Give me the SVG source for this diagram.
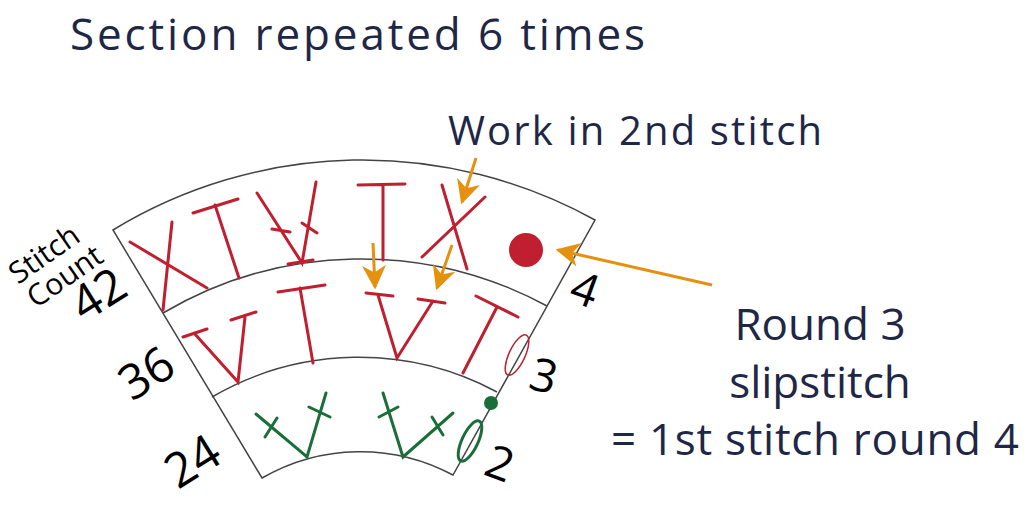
<svg xmlns="http://www.w3.org/2000/svg" width="1024" height="507" viewBox="0 0 1024 507">
<style>
.t{font-family:"Open Sans","DejaVu Sans",sans-serif;fill:#1f2747}
.n{font-family:"Open Sans","DejaVu Sans",sans-serif;fill:#000}
.g{fill:none;stroke:#444;stroke-width:1.5}
.r{stroke:#c01f2f;stroke-width:3;fill:none;stroke-linecap:round}
.gr{stroke:#1b6e3a;stroke-width:3;fill:none;stroke-linecap:round}
.o{stroke:#e6900f;stroke-width:3;fill:none;marker-end:url(#ah)}
</style>
<defs>
<marker id="ah" viewBox="0 0 10 10" refX="9" refY="5" markerWidth="8" markerHeight="8" orient="auto" markerUnits="strokeWidth">
<path d="M0,0 L10,5 L0,10 L3,5 Z" fill="#e6900f"/>
</marker>
</defs>
<rect width="1024" height="507" fill="#fff"/>
<g id="title"><text class="t" x="70" y="50" font-size="44" textLength="575">Section repeated 6 times</text></g>
<g id="note-work"><text class="t" x="448" y="145" font-size="40" textLength="374">Work in 2nd stitch</text></g>
<g id="note-round"><text class="t" font-size="44" text-anchor="middle"><tspan x="820" y="340">Round 3</tspan><tspan x="820" y="398">slipstitch</tspan><tspan x="815" y="455" textLength="408">= 1st stitch round 4</tspan></text></g>
<g id="chart">
<path class="g" d="M113,230 A480 480 0 0 1 595,220 L453,475 A196 196 0 0 0 262,478 Z"/>
<path class="g" d="M163,313 A390 390 0 0 1 547,306"/>
<path class="g" d="M212,397 A292 292 0 0 1 497,392"/>
</g>
<g id="labels">
<text class="n" font-size="30" transform="translate(18,285) rotate(-35)">Stitch</text>
<text class="n" font-size="30" transform="translate(36,309) rotate(-35)">Count</text>
<text class="n" font-size="48" transform="translate(84,323) rotate(-32)">42</text>
<text class="n" font-size="48" transform="translate(132,402) rotate(-32)">36</text>
<text class="n" font-size="48" transform="translate(178,490) rotate(-32)">24</text>
<text class="n" font-size="46" transform="translate(567,300) rotate(20)">4</text>
<text class="n" font-size="46" transform="translate(527,388) rotate(15)">3</text>
<text class="n" font-size="46" transform="translate(482,474) rotate(20)">2</text>
</g>
<g id="row4">
<path class="r" d="M130,242 L207,288 M172,222 L163,310"/>
<path class="r" d="M193,213 L238,199 M215,205 L239,278"/>
<path class="r" d="M257,193 L302,263 L316,182 M272,229 L290,232 M302,223 L317,233 M288,264 L313,260"/>
<path class="r" d="M358,185 L405,184 M383,185 L383,260"/>
<path class="r" d="M442,185 L467,269 M422,257 L485,197"/>
<circle cx="526" cy="250" r="17" fill="#c01f2f"/>
</g>
<g id="row3">
<path class="r" d="M183,337 L207,329 M194,333 L238,382 L245,317 M231,320 L256,312"/>
<path class="r" d="M278,292 L325,285 M300,288 L313,363"/>
<path class="r" d="M366,293 L393,296 M378,295 L397,358 L433,301 M418,299 L445,303"/>
<path class="r" d="M476,296 L518,317 M497,307 L463,373"/>
<ellipse cx="517" cy="355" rx="8" ry="22" transform="rotate(25 517 355)" fill="none" stroke="#c01f2f" stroke-width="1.5"/>
</g>
<g id="row2">
<path class="gr" d="M256,414 L307,457 L326,393 M265,437 L277,418 M309,407 L330,417"/>
<path class="gr" d="M383,393 L403,457 L453,413 M379,417 L398,407 M432,417 L443,435"/>
<circle cx="491" cy="403" r="7" fill="#1b6e3a"/>
<ellipse cx="470" cy="441" rx="8" ry="22" transform="rotate(25 470 441)" fill="none" stroke="#1b6e3a" stroke-width="3"/>
</g>
<g id="connectors">
<path class="o" d="M476,158 L462,202"/>
<path class="o" d="M373,243 L375,287"/>
<path class="o" d="M452,245 L437,288"/>
<path class="o" d="M712,285 L558,250"/>
</g>
</svg>
